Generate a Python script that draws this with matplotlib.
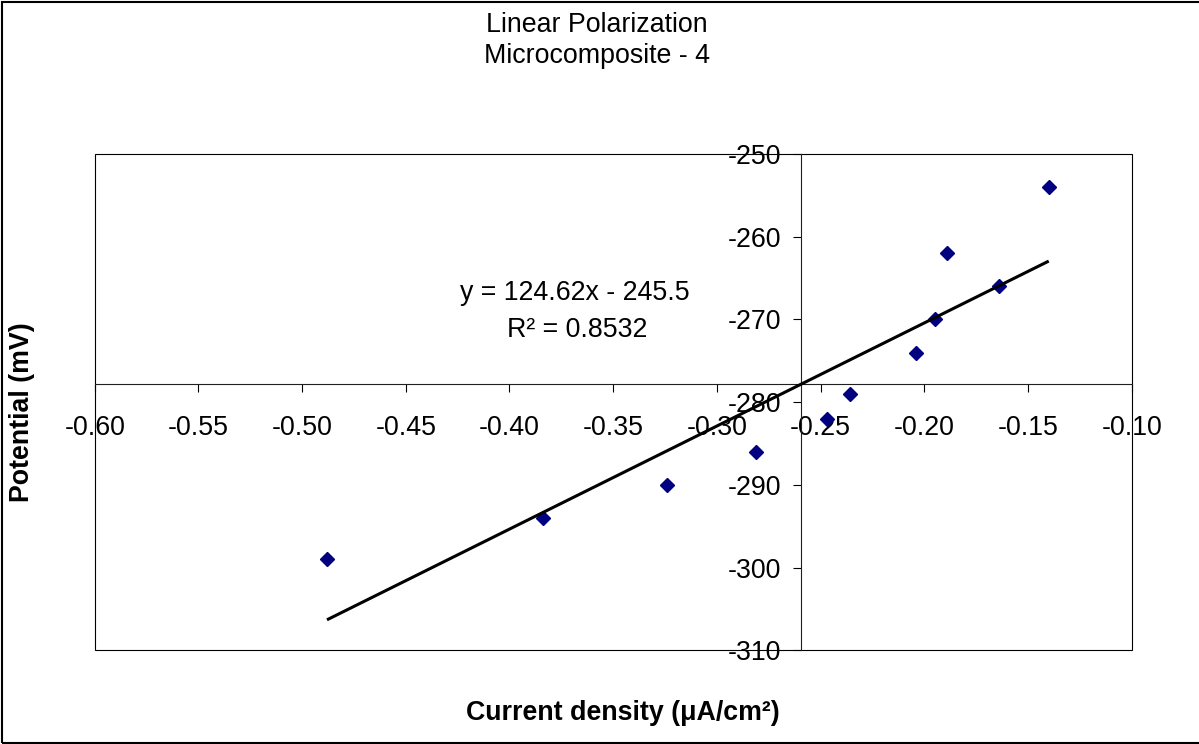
import numpy as np
import matplotlib
matplotlib.use("Agg")
import matplotlib.pyplot as plt
from matplotlib.patches import Rectangle
from matplotlib.ticker import FormatStrFormatter, MultipleLocator

plt.rcParams['font.family'] = ['Liberation Sans', 'DejaVu Sans']
plt.rcParams['axes.unicode_minus'] = False

# Measured points: current density (uA/cm^2) vs potential (mV)
current_density = [-0.488, -0.384, -0.324, -0.281, -0.247, -0.236,
                   -0.204, -0.195, -0.189, -0.164, -0.140]
potential = [-299, -294, -290, -286, -282, -279,
             -274, -270, -262, -266, -254]

# Linear fit as reported on the chart
slope = 124.62
intercept = -245.5
r_squared = 0.8532

title_lines = ["Linear Polarization", "Microcomposite - 4"]
x_label = "Current density (\u03bcA/cm\u00b2)"
y_label = "Potential (mV)"

W, H = 1199, 744
FS = 19.3

fig = plt.figure(figsize=(W / 100, H / 100), dpi=100)
fig.patch.set_facecolor('white')

# Plot area in pixel coordinates
left, right, top, bottom = 94.7, 1131.7, 154.0, 650.3
ax = fig.add_axes([left / W, 1 - bottom / H, (right - left) / W, (bottom - top) / H])
ax.set_xlim(-0.60, -0.10)
ax.set_ylim(-310, -250)

# Axes cross at the mean of each variable
x_cross = float(np.mean(current_density))
y_cross = float(np.mean(potential))

for side in ('top', 'right'):
    ax.spines[side].set_visible(False)
ax.spines['left'].set_position(('data', x_cross))
ax.spines['bottom'].set_position(('data', y_cross))
for side in ('left', 'bottom'):
    ax.spines[side].set_linewidth(0.8)
    ax.spines[side].set_color('#202020')

# Plot-area frame
ax.add_patch(Rectangle((0, 0), 1, 1, transform=ax.transAxes, fill=False,
                       edgecolor='black', linewidth=0.8, clip_on=False, zorder=0.5))

ax.xaxis.set_major_locator(MultipleLocator(0.05))
ax.yaxis.set_major_locator(MultipleLocator(10))
ax.xaxis.set_major_formatter(FormatStrFormatter('%.2f'))
ax.yaxis.set_major_formatter(FormatStrFormatter('%d'))
ax.tick_params(axis='x', direction='out', length=6, width=0.8, pad=16,
               labelsize=FS, colors='black')
ax.tick_params(axis='y', direction='out', length=6, width=0.8, pad=8.5,
               labelsize=FS, colors='black')

# Data and trendline
ax.plot(current_density, potential, linestyle='none', marker='D',
        markersize=7, color='#000080', zorder=3, clip_on=False)
xs = np.array([min(current_density), max(current_density)])
ax.plot(xs, slope * xs + intercept, color='black', linewidth=2.2, zorder=4,
        solid_capstyle='butt')

# Equation label
fig.text(575 / W, 1 - 300 / H,
         f"y = {slope:.2f}x - {abs(intercept):.1f}",
         ha='center', va='baseline', fontsize=FS)
fig.text(577 / W, 1 - 337 / H, f"R\u00b2 = {r_squared:.4f}",
         ha='center', va='baseline', fontsize=FS)

# Title
fig.text(597 / W, 1 - 31.7 / H, title_lines[0], ha='center', va='baseline', fontsize=FS)
fig.text(597 / W, 1 - 63.3 / H, title_lines[1], ha='center', va='baseline', fontsize=FS)

# Axis titles
fig.text(623 / W, 1 - 720 / H, x_label, ha='center', va='baseline',
         fontsize=FS, fontweight='bold')
fig.text(22 / W, 1 - 412 / H, y_label, ha='center', va='center',
         rotation=90, fontsize=FS, fontweight='bold')

# Chart border
fig.add_artist(Rectangle((1.5 / W, 1.5 / H), 1.2, 1 - 3 / H,
                         transform=fig.transFigure, fill=False,
                         edgecolor='black', linewidth=1.5))

fig.savefig('out.png', dpi=100, facecolor='white')
